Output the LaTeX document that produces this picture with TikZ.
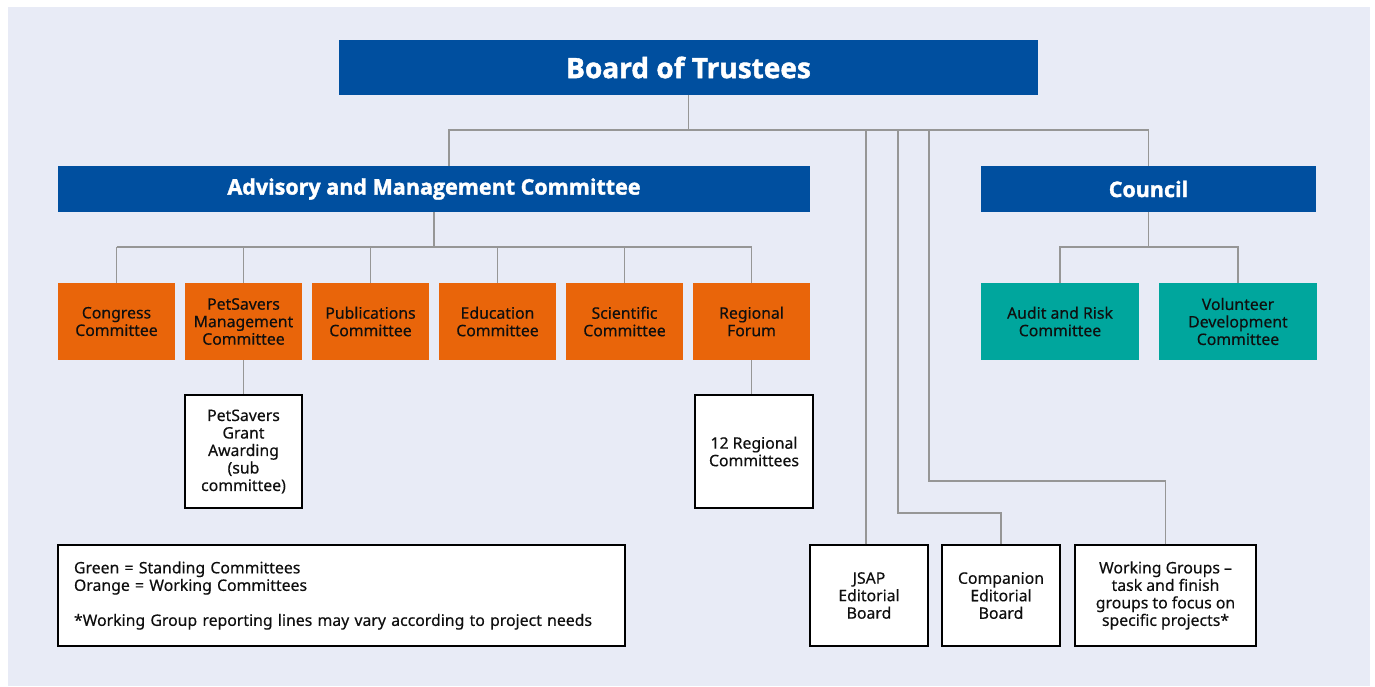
\documentclass[tikz,border=0pt]{standalone}
\usepackage{fontspec}
\setmainfont{Noto Sans}
\newfontfamily\bodyfont{Noto Sans}[FakeBold=0.35]
\newfontfamily\headfont{Open Sans}[BoldFeatures={FakeBold=1.6}]
\usetikzlibrary{calc}
\definecolor{bgc}{RGB}{232,235,246}
\definecolor{bluec}{RGB}{0,79,159}
\definecolor{orangec}{RGB}{233,101,10}
\definecolor{tealc}{RGB}{0,166,157}
\definecolor{linec}{RGB}{150,150,150}
\definecolor{txtc}{RGB}{15,15,15}
\tikzset{
  bluebox/.style={fill=bluec, text=white, inner sep=0pt, font=\headfont\bfseries\fontsize{21.5}{24}\selectfont, minimum height=46pt},
  orbox/.style={fill=orangec, text=txtc, inner sep=0pt, align=center, minimum width=117pt, minimum height=77pt, font=\bodyfont\fontsize{15.8}{17.5}\selectfont},
  tlbox/.style={fill=tealc, text=txtc, inner sep=0pt, align=center, minimum width=158pt, minimum height=77pt, font=\bodyfont\fontsize{15.8}{17.5}\selectfont},
  whbox/.style={fill=white, draw=black, line width=1.5pt, text=txtc, inner sep=0pt, align=center, minimum height=101pt, font=\bodyfont\fontsize{15.8}{17.5}\selectfont},
  conn/.style={draw=linec, line width=1.4pt}
}
\begin{document}
\begin{tikzpicture}[x=1pt,y=-1pt]
\useasboundingbox (0,0) rectangle (1375,686);
\fill[bgc] (8,7) rectangle (1370,686);
% coordinates for bus levels
\coordinate (busA) at (0,130);
\coordinate (busB) at (0,247);
\coordinate (busC) at (0,481);
\coordinate (busD) at (0,513);
\coordinate (v1) at (866,130);
\coordinate (v2) at (898,130);
\coordinate (v3) at (929,130);
% top
\node[bluebox, minimum width=699pt, minimum height=55pt, font=\headfont\bfseries\fontsize{28}{32}\selectfont] (bot) at (688.5,67.5) {Board of Trustees};
\node[bluebox, minimum width=752pt] (amc) at (434,189) {Advisory and Management Committee};
\node[bluebox, minimum width=335pt] (council) at (1148.5,189) {Council};
% orange
\node[orbox] (cong) at (116.5,321.5) {Congress\\Committee};
\node[orbox] (psm) at (243.5,321.5) {PetSavers\\Management\\Committee};
\node[orbox] (pub) at (370.5,321.5) {Publications\\Committee};
\node[orbox] (edu) at (497.5,321.5) {Education\\Committee};
\node[orbox] (sci) at (624.5,321.5) {Scientific\\Committee};
\node[orbox] (rf) at (751.5,321.5) {Regional\\Forum};
% teal
\node[tlbox] (audit) at (1060,321.5) {Audit and Risk\\Committee};
\node[tlbox] (vol) at (1238,321.5) {Volunteer\\Development\\Committee};
% white
\node[whbox, minimum width=117pt, minimum height=113pt] (grant) at (243.5,451.5) {PetSavers\\Grant\\Awarding\\(sub\\committee)};
\node[whbox, minimum width=118pt, minimum height=113pt] (r12) at (754,451.5) {12 Regional\\Committees};
\node[whbox, minimum width=118pt] (jsap) at (869,595.5) {JSAP\\Editorial\\Board};
\node[whbox, minimum width=118pt] (comp) at (1001,595.5) {Companion\\Editorial\\Board};
\node[whbox, minimum width=181pt] (wg) at (1165.5,595.5) {Working Groups –\\task and finish\\groups to focus on\\specific projects*};
\node[whbox, minimum width=567pt, align=left, text width=535pt] (leg) at (341.5,595.5) {Green = Standing Committees\\Orange = Working Committees\\[17.5pt]*Working Group reporting lines may vary according to project needs};
% connectors
\draw[conn] (bot.south) -- (bot.south |- busA);
\draw[conn] ([xshift=15pt]amc.north) -- ([xshift=15pt]amc.north |- busA) -| (council.north);
\draw[conn] (jsap.north -| v1) -- (v1);
\draw[conn] (comp.north) -- (comp.north |- busD) -| (v2);
\draw[conn] (wg.north) -- (wg.north |- busC) -| (v3);
\draw[conn] (amc.south) -- (amc.south |- busB);
\draw[conn] (cong.north |- busB) -- (rf.north |- busB);
\foreach \n in {cong,psm,pub,edu,sci,rf} \draw[conn] (\n.north) -- (\n.north |- busB);
\draw[conn] (council.south) -- (council.south |- busB);
\draw[conn] (audit.north) -- (audit.north |- busB) -| (vol.north);
\draw[conn] (psm.south) -- (grant.north);
\draw[conn] (rf.south) -- (rf.south |- r12.north);
\end{tikzpicture}
\end{document}
